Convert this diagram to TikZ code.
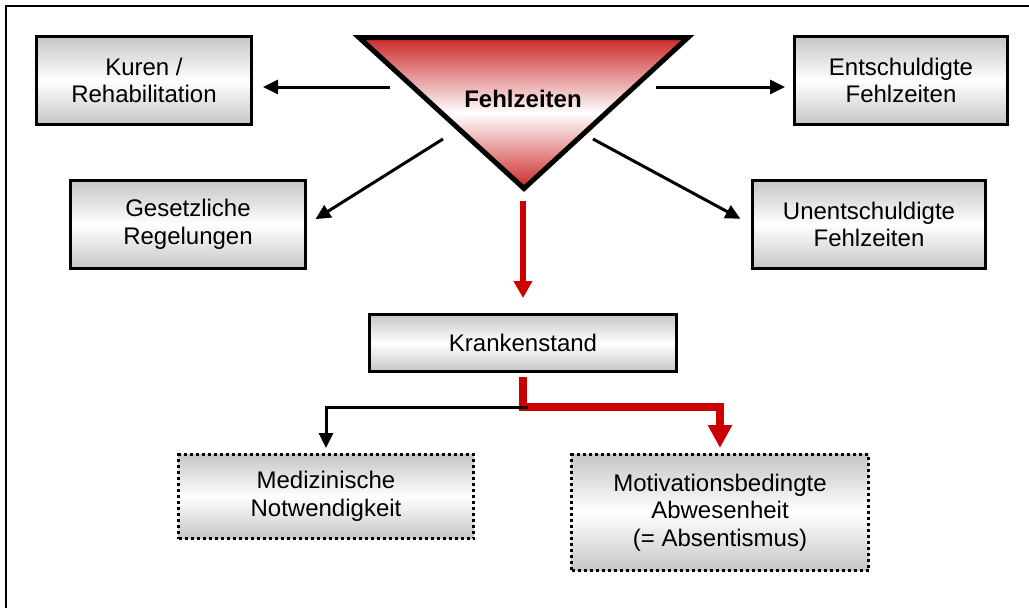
\documentclass[tikz,border=0pt]{standalone}
\usepackage{fontspec}
\setmainfont{Liberation Sans}
\usetikzlibrary{arrows.meta,positioning,calc}
\definecolor{fehlred}{RGB}{204,40,40}
\definecolor{linkred}{RGB}{204,0,0}

\begin{document}
\begin{tikzpicture}[
    x=1pt, y=-1pt,
    font=\fontsize{24}{27.5}\selectfont,
    factor/.style={draw, line width=3pt, align=center, inner sep=0pt, minimum height=88pt, top color=gray!45, bottom color=gray!45, middle color=white},
    dotfactor/.style={factor, dash pattern=on 3pt off 3pt},
    link/.style={->, line width=3pt, >={Triangle[length=15pt,width=14pt]}},
    redlink/.style={->, line width=6pt, linkred, >={Triangle[length=17pt,width=18pt]}},
    splitred/.style={->, line width=7.5pt, linkred, >={Triangle[length=23pt,width=23pt]}}
]
    \useasboundingbox (0,0) rectangle (1029,608);
    % Frame (only left and top edge visible)
    \draw[line width=2pt] (6,608) -- (6,6) -- (1029,6);

    % Triangle
    \coordinate (tl) at (359,37.5);
    \coordinate (tr) at (688,37.5);
    \coordinate (tb) at (524,188.5);
    \path[draw, line width=5pt, top color=fehlred, bottom color=fehlred, middle color=white] (tl) -- (tr) -- (tb) -- cycle;
    \node[font=\bfseries\fontsize{24}{27.5}\selectfont] (fehl) at (523,99) {Fehlzeiten};

    % Boxes around the triangle
    \node[factor, minimum width=215pt] (kuren) at (144,80.5) {Kuren /\\Rehabilitation};
    \node[factor, minimum width=213pt] (entsch) at (901,80.5) {Entschuldigte\\Fehlzeiten};
    \node[factor, minimum width=235pt] (gesetz) at (188,224.5) {Gesetzliche\\Regelungen};
    \node[factor, minimum width=233pt] (unent) at (869,224.5) {Unentschuldigte\\Fehlzeiten};
    \node[factor, minimum width=307pt, minimum height=57pt] (krank) at (523,343) {Krankenstand};

    % Dotted boxes
    \node[dotfactor, minimum width=295pt, minimum height=84pt] (medizin) at (326,496.5) {Medizinische\\Notwendigkeit};
    \node[dotfactor, minimum width=297pt, minimum height=116pt] (motiv) at (720,512.5) {Motivationsbedingte\\Abwesenheit\\(= Absentismus)};

    % Arrows from the triangle
    \coordinate (fl) at (390,87);
    \coordinate (fr) at (656,87);
    \coordinate (fsl) at (443,139);
    \coordinate (fsr) at (593,139);
    \coordinate (fd) at (523,201);
    \draw[link, shorten >=10pt] (fl) -- (fl -| kuren.east);
    \draw[link, shorten >=8pt] (fr) -- (fr -| entsch.west);
    \draw[link, shorten >=10pt] (fsl) -- (gesetz.east);
    \draw[link, shorten >=12pt] (fsr) -- (unent.west);
    \draw[redlink, shorten >=15pt] (fd) -- (krank.north);

    % Split below Krankenstand
    \coordinate (split) at ($(krank.south)+(0,34)$);
    \draw[splitred, shorten >=5pt] ($(krank.south)+(0,4)$) -- (split) -| (motiv.north);
    \draw[link, shorten >=5pt] ($(split)+(5,0)$) -| (medizin.north);
\end{tikzpicture}
\end{document}
